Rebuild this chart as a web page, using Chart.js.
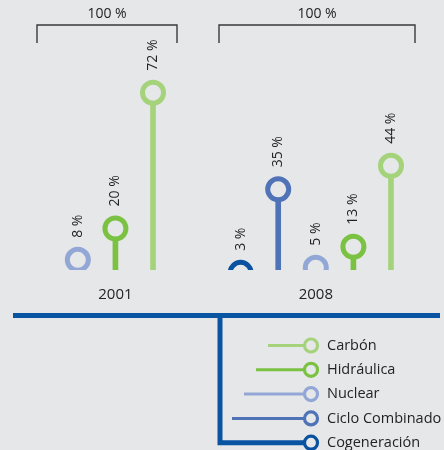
<!DOCTYPE html>
<html><head><meta charset="utf-8">
<script src="https://cdn.jsdelivr.net/npm/chart.js@4"></script>
<style>html,body{margin:0;padding:0;background:#e6e7e9;overflow:hidden}#wrap{width:444px;height:450px;position:relative}</style>
</head><body><div id="wrap"><canvas id="c" width="444" height="450"></canvas></div>
<script>
// ---- data ----
const years = ['2001', '2008'];
const sources2001 = ['Nuclear', 'Hidráulica', 'Carbón'];
const values2001 = [8, 20, 72];
const sources2008 = ['Cogeneración', 'Ciclo Combinado', 'Nuclear', 'Hidráulica', 'Carbón'];
const values2008 = [3, 35, 5, 13, 44];
const totals = ['100 %', '100 %'];
const legendItems = ['Carbón', 'Hidráulica', 'Nuclear', 'Ciclo Combinado', 'Cogeneración'];

// ---- style ----
const BG = '#e6e7e9';
const TEXT = '#232323';
const TREE = '#0a55a1';
const COLORS = {
  'Carbón': '#a5d37c',
  'Hidráulica': '#7bc243',
  'Nuclear': '#93a7d6',
  'Ciclo Combinado': '#5073b7',
  'Cogeneración': '#0a529f'
};
const FONT = '"Open Sans", sans-serif';
const GROUP_GAP = 2.33;       // slot distance between groups
const BRACKETS = [[37, 177], [219, 415]];

// ---- build points ----
const groups = [
  {year: years[0], sources: sources2001, values: values2001, total: totals[0]},
  {year: years[1], sources: sources2008, values: values2008, total: totals[1]}
];
const points = [];
let slot = 0;
groups.forEach((g, gi) => {
  if (gi > 0) slot += GROUP_GAP - 1;
  g.first = slot;
  g.sources.forEach((s, k) => {
    points.push({x: slot, y: g.values[k], source: s});
    slot += 1;
  });
  g.last = slot - 1;
});
const colorsFor = points.map(p => COLORS[p.source]);

const overlay = {
  id: 'overlay',
  afterDatasetsDraw(chart) {
    const ctx = chart.ctx;
    const xs = chart.scales.x, ys = chart.scales.y;
    ctx.save();
    // value labels
    ctx.fillStyle = TEXT;
    ctx.font = '14px ' + FONT;
    ctx.textBaseline = 'middle';
    ctx.textAlign = 'left';
    points.forEach(p => {
      const px = xs.getPixelForValue(p.x), py = ys.getPixelForValue(p.y);
      ctx.save();
      ctx.translate(px, py - 22);
      ctx.rotate(-Math.PI / 2);
      ctx.fillText(p.y + ' %', 0, 0);
      ctx.restore();
    });
    // brackets and totals, year labels
    groups.forEach((g, gi) => {
      const [l, r] = BRACKETS[gi];
      ctx.strokeStyle = '#3a3a3a';
      ctx.lineWidth = 1.4;
      ctx.beginPath();
      ctx.moveTo(l, 43); ctx.lineTo(l, 25); ctx.lineTo(r, 25); ctx.lineTo(r, 43);
      ctx.stroke();
      ctx.textAlign = 'center';
      ctx.textBaseline = 'middle';
      ctx.font = '14px ' + FONT;
      ctx.fillText(g.total, (l + r) / 2, 14);
      const mid = xs.getPixelForValue((g.first + g.last) / 2);
      ctx.font = '15px ' + FONT;
      ctx.fillText(g.year, mid, 295);
    });
    // tree
    ctx.strokeStyle = TREE;
    ctx.lineWidth = 5;
    ctx.lineCap = 'butt';
    ctx.beginPath();
    ctx.moveTo(13, 315.5); ctx.lineTo(440, 315.5);
    ctx.stroke();
    const lx = 311, ly0 = 345.5, lstep = 24.3;
    const lastY = ly0 + lstep * (legendItems.length - 1);
    ctx.beginPath();
    ctx.moveTo(220, 313); ctx.lineTo(220, lastY); ctx.lineTo(lx, lastY);
    ctx.stroke();
    // legend
    legendItems.forEach((name, i) => {
      const y = ly0 + i * lstep;
      const c = COLORS[name];
      if (i < legendItems.length - 1) {
        ctx.strokeStyle = c;
        ctx.lineWidth = 3;
        ctx.beginPath();
        ctx.moveTo(268 - 12 * i, y); ctx.lineTo(lx, y);
        ctx.stroke();
      }
      ctx.beginPath();
      ctx.arc(lx, y, 6.5, 0, Math.PI * 2);
      ctx.fillStyle = BG; ctx.fill();
      ctx.strokeStyle = c; ctx.lineWidth = 3.2; ctx.stroke();
      ctx.fillStyle = TEXT;
      ctx.textAlign = 'left';
      ctx.textBaseline = 'middle';
      ctx.font = '14.5px ' + FONT;
      ctx.fillText(name, 327, y);
    });
    ctx.restore();
  }
};

new Chart(document.getElementById('c'), {
  type: 'bar',
  data: {
    datasets: [
      {
        type: 'scatter',
        data: points,
        pointRadius: 10.5,
        pointHoverRadius: 10.5,
        pointBorderWidth: 5,
        pointBackgroundColor: BG,
        pointBorderColor: colorsFor,
        clip: 0,
        order: 1
      },
      {
        type: 'bar',
        data: points,
        backgroundColor: colorsFor,
        barThickness: 5,
        base: 0,
        order: 2
      }
    ]
  },
  options: {
    responsive: false,
    animation: false,
    devicePixelRatio: 1,
    layout: {autoPadding: false, padding: {left: 0, right: 0, top: 0, bottom: 180}},
    plugins: {legend: {display: false}, tooltip: {enabled: false}},
    scales: {
      x: {type: 'linear', min: -2.07, max: 9.74, offset: false, display: false},
      y: {type: 'linear', min: 4.1, max: 107.5, display: false}
    }
  },
  plugins: [overlay]
});
</script></body></html>
